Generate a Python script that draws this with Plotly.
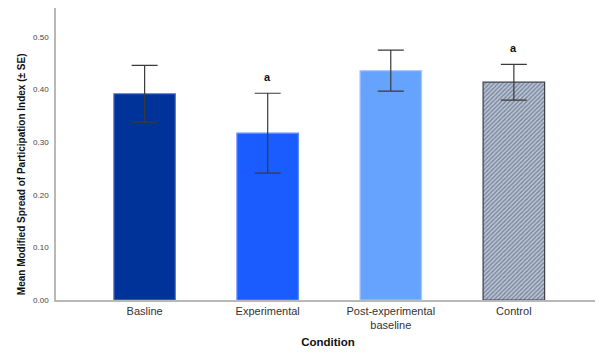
import plotly.graph_objects as go

categories = ["Basline", "Experimental", "Post-experimental<br>baseline", "Control"]
means = [0.392, 0.317, 0.436, 0.414]
se = [0.054, 0.076, 0.039, 0.034]
sig_labels = ["", "a", "", "a"]
y_ticks = [0.0, 0.1, 0.2, 0.3, 0.4, 0.5]
y_title = "Mean Modified Spread of Participation Index (± SE)"

colors = ["#003399", "#1a5cff", "#66a3ff", "#b8c6de"]
edge_colors = ["#5a7ac8", "#5c8cff", "#a8c8ff", "#3a3f4c"]
patterns = ["", "", "", "/"]

xpos = list(range(len(categories)))

fig = go.Figure()
fig.add_trace(go.Bar(
    x=xpos, y=means, width=0.5,
    marker=dict(color=colors, line=dict(color=edge_colors, width=1.2),
                pattern=dict(shape=patterns, fgcolor="#2a3a60", bgcolor="#b8c6de",
                             size=3, solidity=0.45)),
    error_y=dict(type="data", array=se, visible=True, color="#3a3a3a",
                 thickness=1.2, width=13),
    showlegend=False,
))

for x, m, s, lab in zip(xpos, means, se, sig_labels):
    if lab:
        fig.add_annotation(x=x, y=m + s, text=f"<b>{lab}</b>", showarrow=False, yshift=16,
                           font=dict(size=11, color="#111", family="Liberation Sans"))

# y-axis title as annotation to match its placement
fig.add_annotation(xref="paper", yref="paper", x=-0.063, y=0.43, textangle=-90,
                   text=f"<b>{y_title}</b>", showarrow=False, xanchor="center",
                   yanchor="middle", font=dict(size=10, color="#111"))

# page body adds ~8px offset; compensate with figure size / margins
fig.update_layout(
    width=595, height=346,
    margin=dict(l=48, r=3, t=0, b=54),
    plot_bgcolor="white", paper_bgcolor="white",
    font=dict(family="Liberation Sans, Arial, sans-serif", color="#333"),
    bargap=0.5,
)
fig.update_xaxes(
    range=[-0.72, 3.70], tickvals=xpos, ticktext=categories, automargin=False,
    showline=True, linecolor="#b8b8b8", linewidth=1.5, ticks="", showgrid=False,
    tickfont=dict(size=11, color="#333"),
    title=dict(text="<b>Condition</b>", font=dict(size=11.5, color="#111"), standoff=8),
    zeroline=False,
)
fig.update_yaxes(
    range=[0, 0.555], tickvals=y_ticks, ticktext=[f"{v:.2f}" for v in y_ticks],
    automargin=False,
    showline=True, linecolor="#b8b8b8", linewidth=1.5, ticks="", showgrid=False,
    tickfont=dict(size=8, color="#444"), ticklabelstandoff=4,
    zeroline=False,
)

fig.write_html("out.html")
